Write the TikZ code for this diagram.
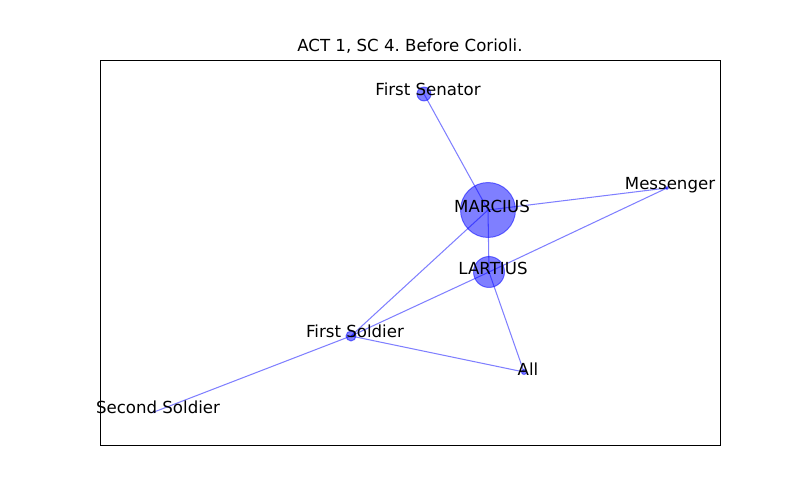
\documentclass[tikz,border=0pt]{standalone}
\usepackage{fontspec}
\setmainfont{DejaVu Sans}
\usetikzlibrary{backgrounds}
\frenchspacing
\begin{document}
\begin{tikzpicture}[x=0.72bp,y=-0.72bp,
  nd/.style={circle,fill=blue,draw=blue,fill opacity=0.5,draw opacity=0.5,line width=0.7pt,inner sep=0pt},
  ed/.style={draw=blue,draw opacity=0.5,line width=0.75pt},
  lbl/.style={font=\fontsize{12}{14}\selectfont,inner sep=0pt,anchor=center}]
\useasboundingbox (0,0) rectangle (800,500);
\draw[line width=0.7pt] (100,60) rectangle (720,445);
\node[font=\fontsize{12}{14}\selectfont] (title) at (410,46) {ACT 1, SC 4. Before Corioli.};
% nodes
\node[nd,minimum size=14*0.72bp] (fs) at (424,94) {};
\node[nd,minimum size=55*0.72bp] (ma) at (488,210) {};
\node[nd,minimum size=3*0.72bp] (me) at (667,188) {};
\node[nd,minimum size=31*0.72bp] (la) at (489,272) {};
\node[nd,minimum size=10*0.72bp] (so) at (351,336) {};
\node[nd,minimum size=5*0.72bp] (al) at (524,372) {};
\node[nd,minimum size=1.5*0.72bp] (ss) at (154,412) {};
% edges
\begin{pgfonlayer}{background}
\draw[ed] (fs.center) -- (ma.center);
\draw[ed] (ma.center) -- (me.center);
\draw[ed] (ma.center) -- (la.center);
\draw[ed] (ma.center) -- (so.center);
\draw[ed] (la.center) -- (me.center);
\draw[ed] (la.center) -- (so.center);
\draw[ed] (la.center) -- (al.center);
\draw[ed] (so.center) -- (al.center);
\draw[ed] (so.center) -- (ss.center);
\end{pgfonlayer}
% labels
\node[lbl] (lfs) at (428,89) {First Senator};
\node[lbl] (lma) at (492,206) {MARCIUS};
\node[lbl] (lme) at (670,185.5) {Messenger};
\node[lbl] (lla) at (493,268) {LARTIUS};
\node[lbl] (lso) at (355,331) {First Soldier};
\node[lbl] (lal) at (528,369) {All};
\node[lbl] (lss) at (158,407) {Second Soldier};
\end{tikzpicture}
\end{document}
